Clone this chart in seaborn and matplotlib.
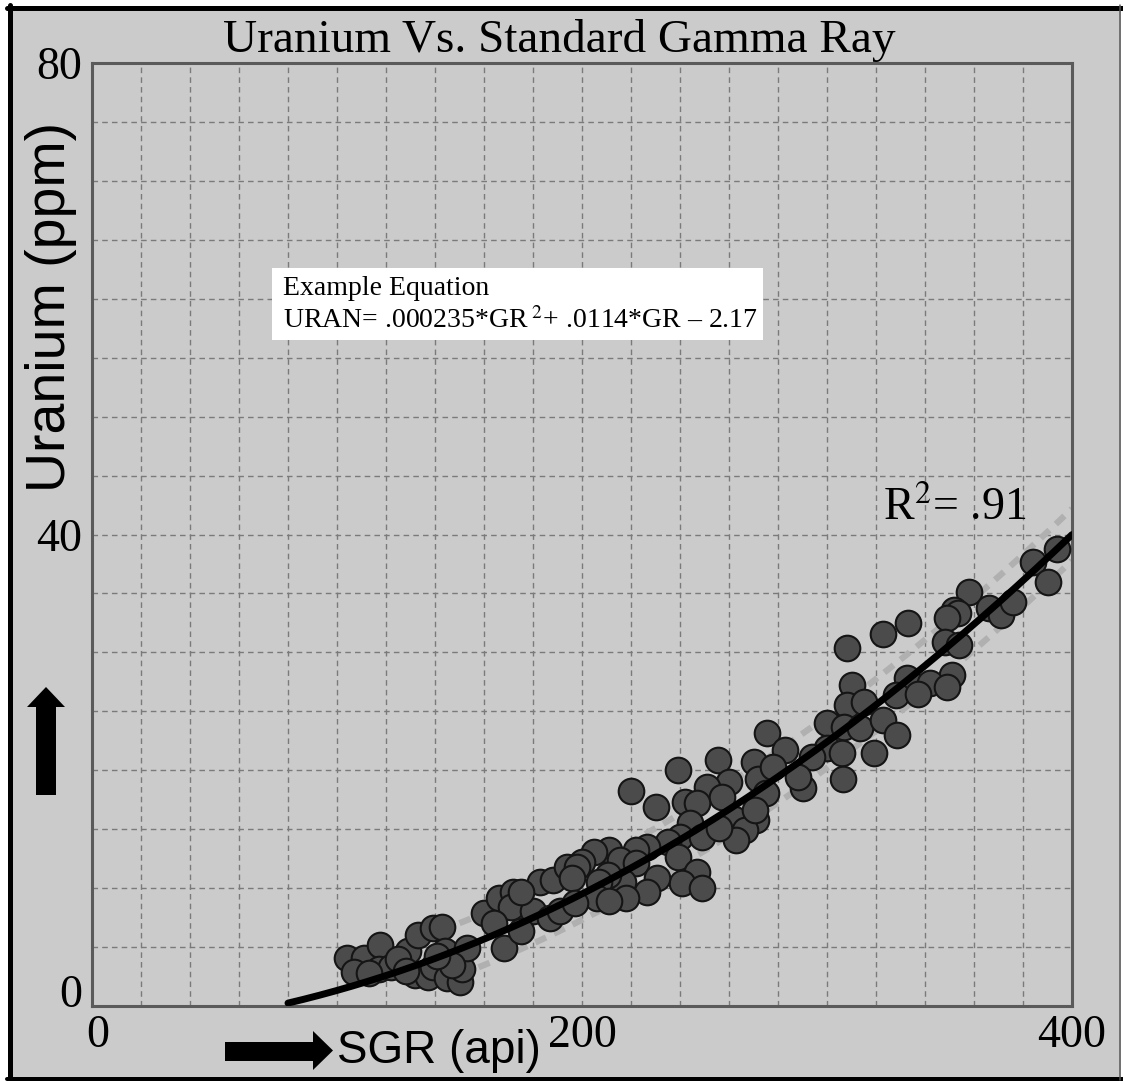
import numpy as np
import pandas as pd
import matplotlib
matplotlib.use("Agg")
import matplotlib.pyplot as plt
from matplotlib.patches import Rectangle, Polygon
from matplotlib.lines import Line2D
from matplotlib.transforms import ScaledTranslation
import seaborn as sns

# ---------------- data ----------------
sgr = [104, 111, 117.5, 117, 122, 129, 133, 139, 143, 132, 137, 139, 144, 145, 150, 151, 153,
       160, 166, 172, 171, 164, 168, 183, 188, 180, 187, 191, 175, 194,
       107, 125, 113, 128, 147, 141,
       220, 230, 239, 255.5, 270, 275.5, 272, 260, 251, 257, 242, 247, 244, 240, 249, 262, 271,
       266.5, 263, 256, 235, 226.5, 222, 211, 205, 200, 198, 215.5, 222, 239, 247, 241, 249,
       230.6, 226.5, 216.7, 210.6, 207, 196, 175, 206, 218,
       308, 323, 333, 310, 332.6, 328, 308, 315, 300, 307, 313.5, 323, 328.6, 283, 300, 306,
       319, 294, 278, 306.5, 290, 288, 275, 270.6,
       394, 384, 390, 358, 352, 353.5, 349, 366, 371, 376, 348, 354, 351, 342, 349, 337,
       197, 211]
uran = [4.1, 4.1, 5.2, 3.1, 3.3, 4.7, 6.0, 6.6, 6.7, 2.6, 2.5, 3.3, 4.7, 2.4, 2.0, 3.1, 4.9,
        7.9, 9.2, 9.7, 8.4, 7.0, 4.9, 10.5, 10.7, 8.1, 7.5, 8.1, 6.4, 11.8,
        2.9, 4.0, 2.8, 3.0, 3.5, 4.2,
        18.2, 16.9, 20.0, 20.9, 20.7, 23.2, 19.3, 19.0, 18.6, 17.7, 17.3, 17.2, 15.5, 14.3, 14.3, 15.9, 15.8,
        14.9, 14.1, 15.1, 13.9, 13.5, 13.2, 13.2, 13.1, 12.2, 11.8, 12.4, 12.1, 12.6, 11.4, 10.4, 10.0,
        10.9, 9.7, 10.5, 11.1, 10.5, 10.9, 9.7, 9.2, 9.2,
        30.4, 31.6, 32.5, 27.2, 27.8, 26.4, 25.5, 25.8, 24.0, 23.7, 23.6, 24.3, 23.0, 21.7, 21.9, 21.5,
        21.5, 21.1, 20.3, 19.3, 18.5, 19.4, 18.1, 16.6,
        38.8, 37.7, 36.0, 35.1, 33.6, 33.3, 32.9, 33.8, 33.2, 34.3, 30.9, 30.6, 28.1, 27.4, 27.1, 26.5,
        8.7, 8.9]

# fit equation URAN = a*GR^2 + b*GR + c
coef_a, coef_b, coef_c = 0.000235, 0.0114, -2.17
fit_start, fit_end = 80, 400
band_start = 150
band_offset = 2.2

x_labels = {0: "0", 200: "200", 400: "400"}
y_labels = {0: "0", 40: "40", 80: "80"}

title = "Uranium Vs. Standard Gamma Ray"
xlabel = "SGR (api)"
ylabel = "Uranium (ppm)"
eq_title = "Example Equation"
eq_text = r"URAN= .000235*GR$^{\ 2}$+ .0114*GR – 2.17"
r2_text = r"R$^{2}$= .91"

# ---------------- style ----------------
sns.set_theme(style="white")
plt.rcParams['font.family'] = ['Liberation Serif', 'DejaVu Serif']
plt.rcParams['mathtext.fontset'] = 'stix'
plt.rcParams['text.color'] = 'black'
plt.rcParams['xtick.color'] = 'black'
plt.rcParams['ytick.color'] = 'black'
plt.rcParams['axes.labelcolor'] = 'black'

W, H = 1123, 1081
BG = '#cbcbcb'
fig = plt.figure(figsize=(W / 100, H / 100), dpi=100, facecolor='white')


def fx(x):
    return x / W


def fy(y):
    return 1 - y / H


# panel background + frame
fig.patches.append(Rectangle((fx(8), fy(1079)), fx(1121 - 8), (1079 - 6) / H,
                             transform=fig.transFigure, facecolor=BG, edgecolor='none', zorder=-5))
px = 0.72
fig.lines.append(Line2D([fx(9.5), fx(9.5)], [fy(5), fy(1080)], transform=fig.transFigure,
                        color='black', lw=5 * px, zorder=5))
fig.lines.append(Line2D([fx(7), fx(1123)], [fy(7.5), fy(7.5)], transform=fig.transFigure,
                        color='black', lw=5 * px, zorder=5))
fig.lines.append(Line2D([fx(7), fx(1123)], [fy(1078.5), fy(1078.5)], transform=fig.transFigure,
                        color='black', lw=4 * px, zorder=5))
fig.lines.append(Line2D([fx(1120), fx(1120)], [fy(5), fy(1080)], transform=fig.transFigure,
                        color='#555555', lw=1.5 * px, zorder=5))

ax = fig.add_axes([fx(92), fy(1006), fx(1072 - 92), (1006 - 63) / H])
ax.set_facecolor(BG)
ax.set_xlim(0, 400)
ax.set_ylim(0, 80)

xt = np.arange(0, 401, 20)
yt = np.arange(0, 81, 5)
ax.set_xticks(xt)
ax.set_xticklabels([x_labels.get(int(v), "") for v in xt])
ax.set_yticks(yt)
ax.set_yticklabels([y_labels.get(int(v), "") for v in yt])
ax.tick_params(axis='both', length=0, labelsize=33, colors='black')
ax.tick_params(axis='x', pad=6)
ax.tick_params(axis='y', pad=7)
# lift the y "0" label slightly like the reference, and nudge x "0" right
ylab0 = ax.get_yticklabels()[0]
ylab0.set_transform(ylab0.get_transform() + ScaledTranslation(0, 0.15, fig.dpi_scale_trans))
xlab0 = ax.get_xticklabels()[0]
xlab0.set_transform(xlab0.get_transform() + ScaledTranslation(0.06, 0, fig.dpi_scale_trans))

ax.grid(True, color='#7a7a7a', lw=1.0, linestyle=(0, (4, 3)))
ax.set_axisbelow(True)
for s in ax.spines.values():
    s.set_color('#5a5a5a')
    s.set_linewidth(2.2)
    s.set_visible(True)

# fit curve and faint band
gx = np.linspace(fit_start, fit_end, 300)
gy = coef_a * gx ** 2 + coef_b * gx + coef_c
curve = pd.DataFrame({'x': gx, 'fit': gy})
bx = np.linspace(band_start, fit_end, 200)
by = coef_a * bx ** 2 + coef_b * bx + coef_c
band = pd.DataFrame({'x': bx, 'up': by + band_offset, 'lo': by - band_offset})
sns.lineplot(data=band, x='x', y='up', ax=ax, color='#b0b0b0', lw=4.5,
             linestyle=(0, (1.9, 1.4)), zorder=2, sort=True)
sns.lineplot(data=band, x='x', y='lo', ax=ax, color='#b0b0b0', lw=4.5,
             linestyle=(0, (1.9, 1.4)), zorder=2, sort=True)

pts = pd.DataFrame({'sgr': sgr, 'uran': uran})
sns.scatterplot(data=pts, x='sgr', y='uran', ax=ax, s=340, color='#4b4b4b',
                edgecolor='#151515', linewidth=1.5, zorder=3, legend=False)

sns.lineplot(data=curve, x='x', y='fit', ax=ax, color='black', lw=5, zorder=6, sort=True)
ax.set_xlabel("")
ax.set_ylabel("")

# title and labels
fig.text(fx(559), fy(52), title, fontsize=34, ha='center', va='baseline', color='black')
fig.text(fx(51), fy(307), ylabel, fontsize=40, rotation=90, ha='center', va='center',
         family=['Liberation Sans', 'DejaVu Sans'], color='black')
fig.text(fx(337), fy(1063), xlabel, fontsize=33, ha='left', va='baseline',
         family=['Liberation Sans', 'DejaVu Sans'], color='black')

# arrows
right_arrow = [(225, 1042), (313, 1042), (313, 1031), (333, 1050.5), (313, 1070), (313, 1061), (225, 1061)]
fig.patches.append(Polygon([(fx(a), fy(b)) for a, b in right_arrow], closed=True,
                           transform=fig.transFigure, facecolor='black', edgecolor='none', zorder=4))
up_arrow = [(36, 795), (36, 707), (27, 707), (46, 687), (65, 707), (56, 707), (56, 795)]
fig.patches.append(Polygon([(fx(a), fy(b)) for a, b in up_arrow], closed=True,
                           transform=fig.transFigure, facecolor='black', edgecolor='none', zorder=4))

# equation box
fig.patches.append(Rectangle((fx(272), fy(340)), fx(763 - 272), (340 - 268) / H,
                             transform=fig.transFigure, facecolor='white', edgecolor='none', zorder=2))
fig.text(fx(283), fy(295), eq_title, fontsize=20, ha='left', va='baseline', zorder=4, color='black')
fig.text(fx(283), fy(328), eq_text, fontsize=20, ha='left', va='baseline', zorder=4, color='black')

fig.text(fx(883), fy(520), r2_text, fontsize=33, ha='left', va='baseline', zorder=4, color='black')

fig.savefig("out.png", dpi=100, facecolor='white')
